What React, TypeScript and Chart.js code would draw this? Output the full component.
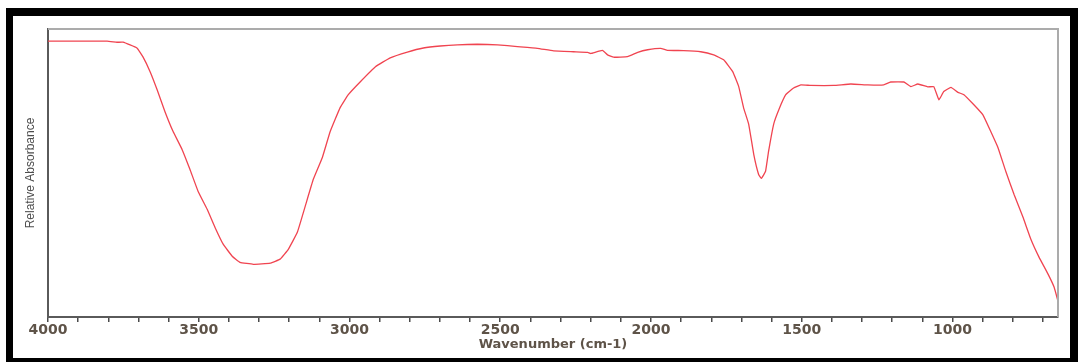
import React, { useEffect, useRef } from "react";
import { Chart, registerables } from "chart.js";

Chart.register(...registerables);

const wavenumbers = [
  4000, 3804, 3771, 3751, 3705, 3685, 3661, 3638, 3612, 3585, 3555, 3529, 3502, 3472, 3446,
  3419, 3389, 3363, 3319, 3263, 3230, 3203, 3173, 3147, 3120, 3090, 3064, 3031, 3004, 2964,
  2914, 2865, 2808, 2755, 2699, 2642, 2576, 2509, 2443, 2377, 2323, 2257, 2210, 2200, 2161,
  2144, 2124, 2078, 2044, 2011, 1968, 1945, 1892, 1835, 1792, 1759, 1729, 1709, 1693, 1676,
  1659, 1643, 1634, 1620, 1610, 1593, 1576, 1553, 1527, 1503, 1470, 1394, 1337, 1281, 1228,
  1205, 1161, 1138, 1115, 1082, 1062, 1045, 1029, 1005, 982, 962, 929, 899, 873, 849,
  823, 796, 766, 740, 713, 683, 663, 650,
];

const absorbance = [
  95.8, 95.8, 95.4, 95.4, 93.4, 90.3, 85.1, 78.9, 71.3, 64.4, 58.1, 51.2, 43.6, 37.4, 31.1,
  25.3, 21.1, 19.0, 18.3, 18.7, 20.1, 23.5, 29.4, 38.4, 47.8, 55.4, 64.4, 72.7, 77.2, 81.7,
  86.9, 90.0, 92.0, 93.4, 94.1, 94.5, 94.7, 94.5, 93.9, 93.3, 92.4, 92.1, 91.9, 91.5, 92.6,
  91.0, 90.2, 90.4, 91.9, 92.8, 93.3, 92.6, 92.5, 92.1, 91.0, 89.3, 85.2, 80.0, 72.7, 67.0,
  56.4, 49.5, 48.1, 50.6, 57.5, 67.0, 72.0, 77.2, 79.5, 80.6, 80.4, 80.4, 80.9, 80.6, 80.6,
  81.6, 81.6, 80.0, 80.9, 79.9, 80.0, 75.4, 78.3, 79.7, 78.0, 77.2, 73.7, 70.2, 64.4, 58.8,
  50.5, 42.6, 34.6, 27.0, 20.8, 14.9, 10.4, 5.5,
];

const tickValues = [
  4000, 3900, 3800, 3700, 3600, 3500, 3400, 3300, 3200, 3100, 3000, 2900, 2800, 2700, 2600,
  2500, 2400, 2300, 2200, 2100, 2000, 1900, 1800, 1700, 1600, 1500, 1400, 1300, 1200, 1100,
  1000, 900, 800, 700,
];
const labeledTicks = [4000, 3500, 3000, 2500, 2000, 1500, 1000];

const xMin = 650;
const xMax = 4000;
const xTitle = "Wavenumber (cm-1)";
const yTitle = "Relative Absorbance";

const framePlugin = {
  id: "frame",
  beforeDraw(chart: any) {
    const { ctx, width, height } = chart;
    ctx.save();
    ctx.fillStyle = "#ffffff";
    ctx.fillRect(0, 0, width, height);
    ctx.fillStyle = "#000000";
    ctx.fillRect(6, 8, 1072, 8);
    ctx.fillRect(6, 8, 7, height - 8);
    ctx.fillRect(1070, 8, 8, height - 8);
    ctx.fillRect(6, 358, 1072, 4);
    ctx.restore();
  },
  afterDraw(chart: any) {
    const { ctx, chartArea } = chart;
    ctx.save();
    ctx.strokeStyle = "#ababab";
    ctx.lineWidth = 2;
    ctx.beginPath();
    ctx.moveTo(chartArea.left, chartArea.top);
    ctx.lineTo(chartArea.right, chartArea.top);
    ctx.lineTo(chartArea.right, chartArea.bottom);
    ctx.stroke();
    ctx.restore();
  },
};

export default function App() {
  const ref = useRef<HTMLCanvasElement | null>(null);

  useEffect(() => {
    if (!ref.current) return;
    const points = wavenumbers.map((w, i) => ({ x: w, y: absorbance[i] }));
    const chart = new Chart(ref.current, {
      type: "line",
      data: {
        datasets: [
          {
            data: points,
            borderColor: "#f04450",
            borderWidth: 1.3,
            pointRadius: 0,
            tension: 0.1,
            fill: false,
          },
        ],
      },
      options: {
        animation: false,
        responsive: false,
        devicePixelRatio: 1,
        layout: { padding: { left: 19, right: 22, top: 29, bottom: 9 } },
        plugins: {
          legend: { display: false },
          tooltip: { enabled: false },
        },
        scales: {
          x: {
            type: "linear",
            reverse: true,
            min: xMin,
            max: xMax,
            afterBuildTicks: (scale: any) => {
              scale.ticks = tickValues.map((v) => ({ value: v }));
            },
            ticks: {
              autoSkip: false,
              maxRotation: 0,
              minRotation: 0,
              padding: 1,
              color: "#5e5348",
              font: { family: "DejaVu Sans", weight: "bold", size: 14, lineHeight: 1.0 },
              callback: (value: any) => (labeledTicks.includes(Number(value)) ? String(value) : ""),
            },
            grid: {
              display: true,
              drawOnChartArea: false,
              drawTicks: true,
              tickLength: 5,
              color: "#4a4a4a",
              lineWidth: 1.5,
            },
            border: { display: true, color: "#5a5a5a", width: 2 },
            title: {
              display: true,
              text: xTitle,
              color: "#5e5348",
              font: { family: "DejaVu Sans", weight: "bold", size: 13, lineHeight: 1.0 },
              padding: { top: 0, bottom: 2 },
            },
          },
          y: {
            type: "linear",
            min: 0,
            max: 100,
            ticks: { display: false },
            grid: { display: false, drawTicks: false },
            border: { display: true, color: "#5a5a5a", width: 2 },
            title: {
              display: true,
              text: yTitle,
              color: "#4d4d4d",
              font: { family: "Liberation Sans", size: 12, lineHeight: 1.2 },
              padding: { top: 4, bottom: 10.6 },
            },
          },
        },
      },
      plugins: [framePlugin],
    });
    return () => chart.destroy();
  }, []);

  return (
    <div style={{ position: "fixed", left: 0, top: 0, width: 1080, height: 362, background: "#fff" }}>
      <canvas ref={ref} width={1080} height={362} style={{ display: "block" }} />
    </div>
  );
}
